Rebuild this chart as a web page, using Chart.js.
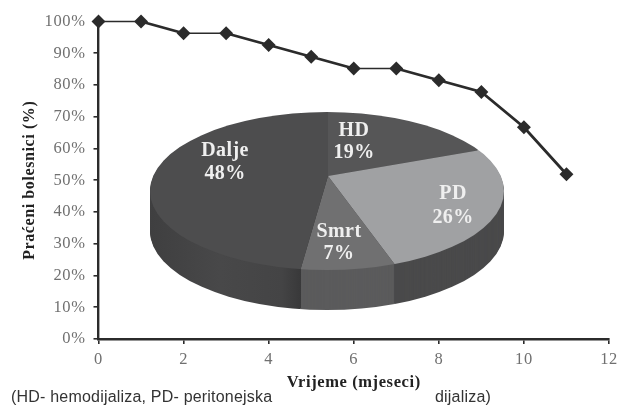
<!DOCTYPE html>
<html><head><meta charset="utf-8">
<script src="https://cdn.jsdelivr.net/npm/chart.js@4"></script>
<style>
html,body{margin:0;padding:0;background:#fff;width:618px;height:406px;overflow:hidden}
#wrap{position:relative;width:618px;height:406px;filter:blur(0.4px)}
canvas{position:absolute;left:0;top:0}
.note{position:absolute;top:389px;font:16px "Liberation Sans",sans-serif;letter-spacing:.2px;color:#333;white-space:nowrap;line-height:16px}
</style></head><body>
<div id="wrap">
<canvas id="lineC" width="618" height="406"></canvas>
<canvas id="pieC" width="618" height="406"></canvas>
<div class="note" id="n1" style="left:11px"></div>
<div class="note" id="n2" style="left:435px"></div>
</div>
<script>
const months=[0,1,2,3,4,5,6,7,8,9,10,11];
const followed=[100,100,96.3,96.3,92.6,88.9,85.2,85.2,81.5,77.8,66.7,51.9];
const pieLabels=['HD','PD','Smrt','Dalje'];
const pieValues=[19,26,7,48];
const pieColors=['#565657','#a0a1a3','#707071','#4d4d4e'];
const xTitle='Vrijeme (mjeseci)';
const yTitle='Praćeni bolesnici (%)';
const notes=['(HD- hemodijaliza, PD- peritonejska','dijaliza)'];
document.getElementById('n1').textContent=notes[0];
document.getElementById('n2').textContent=notes[1];

const DARK='#2b2b2b';
const spacing={id:'spacing',beforeDraw(chart){chart.ctx.letterSpacing='0.6px';}};
new Chart(document.getElementById('lineC'),{
  type:'line',
  data:{datasets:[{
    data:months.map((m,i)=>({x:m,y:followed[i]})),
    borderColor:DARK,backgroundColor:DARK,
    borderWidth:2.8,
    segment:{borderWidth:c=>c.p0.parsed.y===c.p1.parsed.y?1.4:2.8},
    pointStyle:'rectRot',pointRadius:5,pointBackgroundColor:DARK,pointBorderColor:DARK,
    tension:0,clip:false
  }]},
  options:{
    responsive:false,animation:false,
    layout:{padding:{top:21.5,right:9,left:0,bottom:0}},
    plugins:{legend:{display:false},tooltip:{enabled:false}},
    scales:{
      x:{type:'linear',min:0,max:12,
        afterFit(s){s.height=67;s.paddingRight=0;s.paddingLeft=0},
        ticks:{stepSize:2,padding:6,color:'#707070',maxRotation:0,font:{family:'"Liberation Serif"',size:16.5}},
        grid:{drawOnChartArea:false,drawTicks:true,tickLength:5,color:DARK,lineWidth:1.6},
        border:{color:DARK,width:2.4},
        title:{display:true,text:xTitle,color:'#222',padding:{top:3,bottom:13},font:{family:'"Liberation Serif"',size:16.5,weight:'bold'}}
      },
      y:{min:0,max:100,
        afterFit(s){s.width=98.5;s.paddingTop=0;s.paddingBottom=0},
        ticks:{stepSize:10,padding:8,color:'#707070',callback:v=>v+'%',font:{family:'"Liberation Serif"',size:16.5}},
        grid:{drawOnChartArea:false,drawTicks:true,tickLength:5,color:DARK,lineWidth:1.6},
        border:{color:DARK,width:2.4},
        title:{display:true,text:yTitle,color:'#222',padding:{top:20,bottom:0},font:{family:'"Liberation Serif"',size:16,weight:'bold'}}
      }
    }
  },
  plugins:[spacing]
});

// 3D look: the flat pie is viewed through a squashing transform
const SCALE=1.3,TILT=0.43,APEX={x:328,y:176},RIM={x:327,y:191,rx:177,ry:79},DEPTH=40;
const labelSpots=[{x:354,y:131,gap:22},{x:453,y:194,gap:24},{x:339,y:232,gap:22},{x:225,y:151,gap:23}];
function wallFill(ctx,i){
  if(i===2)return '#5b5b5c';
  if(i===1)return '#4a4a4b';
  if(i===0)return '#484849';
  const toX=x=>309+(x-APEX.x)/SCALE;
  const g=ctx.createLinearGradient(toX(150),0,toX(305),0);
  g.addColorStop(0,'#3f3f40');g.addColorStop(0.45,'#484849');g.addColorStop(0.85,'#444445');g.addColorStop(1,'#363637');
  return g;
}
function project(chart,ctx,off){
  ctx.beginPath();
  ctx.ellipse(RIM.x,RIM.y+off,RIM.rx,RIM.ry,0,0,Math.PI*2);
  ctx.clip();
  ctx.translate(APEX.x,APEX.y+off);
  ctx.scale(SCALE,SCALE*TILT);
  ctx.translate(-chart.width/2,-chart.height/2);
}
const pie3d={
  id:'pie3d',
  beforeDatasetsDraw(chart){
    const ctx=chart.ctx,arcs=chart.getDatasetMeta(0).data;
    for(let off=DEPTH;off>0;off--){
      ctx.save();
      project(chart,ctx,off);
      arcs.forEach((a,i)=>{
        const o=a.options;
        a.options=Object.assign({},o,{backgroundColor:wallFill(ctx,i)});
        a.draw(ctx);
        a.options=o;
      });
      ctx.restore();
    }
    ctx.save();
    project(chart,ctx,0);
  },
  afterDatasetsDraw(chart){chart.ctx.restore();},
  afterDraw(chart){
    const ctx=chart.ctx;
    ctx.save();
    ctx.fillStyle='#efefef';
    ctx.letterSpacing='0.4px';
    ctx.font='bold 20px "Liberation Serif"';
    ctx.textAlign='center';ctx.textBaseline='middle';
    pieLabels.forEach((l,i)=>{
      const s=labelSpots[i];
      ctx.fillText(l,s.x,s.y);
      ctx.fillText(pieValues[i]+'%',s.x,s.y+s.gap);
    });
    ctx.restore();
  }
};
new Chart(document.getElementById('pieC'),{
  type:'pie',
  data:{labels:pieLabels,datasets:[{data:pieValues,backgroundColor:pieColors,borderWidth:0,clip:false}]},
  options:{responsive:false,animation:false,layout:{padding:0},
    plugins:{legend:{display:false},tooltip:{enabled:false}}},
  plugins:[pie3d]
});
</script>
</body></html>
